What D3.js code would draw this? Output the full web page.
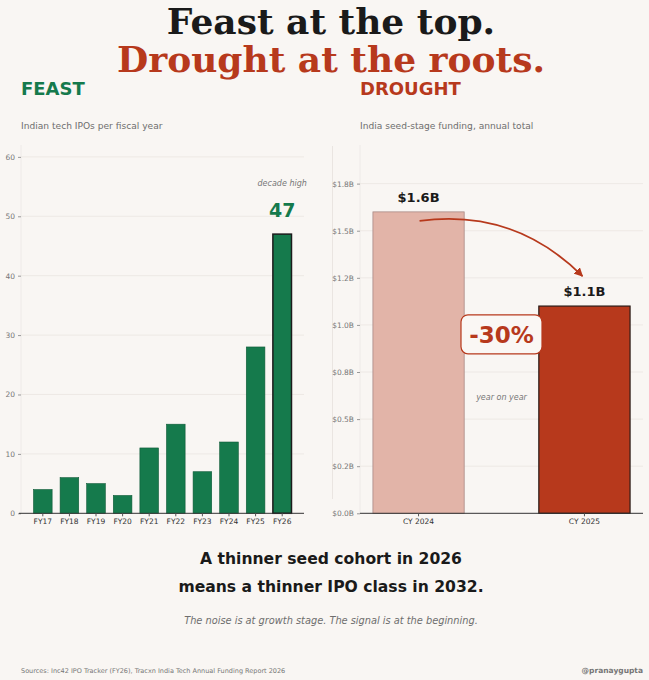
<!DOCTYPE html>
<html><head><meta charset="utf-8">
<script src="https://cdn.jsdelivr.net/npm/d3@7"></script>
<style>
html,body{margin:0;padding:0;background:#f9f6f3;}
svg{display:block;font-family:"DejaVu Sans",sans-serif;}
</style></head>
<body>
<svg id="c" width="649" height="680"></svg>
<script>
// ---- data ----
const ipoYears = ["FY17","FY18","FY19","FY20","FY21","FY22","FY23","FY24","FY25","FY26"];
const ipoCounts = [4,6,5,3,11,15,7,12,28,47];
const ipoTicks = [0,10,20,30,40,50,60];
const seedYears = ["CY 2024","CY 2025"];
const seedFunding = [1.6,1.1]; // $B
const seedTicks = [0,0.25,0.5,0.75,1.0,1.25,1.5,1.75];
const seedTickLabels = ["$0.0B","$0.2B","$0.5B","$0.8B","$1.0B","$1.2B","$1.5B","$1.8B"];
const seedLabels = ["$1.6B","$1.1B"];

const GREEN = "#157a4c", RED = "#b7391c", LIGHTRED = "#e2b4a8", BG = "#f9f6f3";
const svg = d3.select("#c");
svg.append("rect").attr("width",649).attr("height",680).attr("fill",BG);

// titles
svg.append("text").attr("x",331).attr("y",34).attr("text-anchor","middle")
  .attr("font-family","DejaVu Serif").attr("font-weight","bold").attr("font-size",36)
  .attr("fill","#1a1a1a").text("Feast at the top.");
svg.append("text").attr("x",331).attr("y",72).attr("text-anchor","middle")
  .attr("font-family","DejaVu Serif").attr("font-weight","bold").attr("font-size",36)
  .attr("fill",RED).text("Drought at the roots.");

svg.append("text").attr("x",21).attr("y",95).attr("font-weight","bold").attr("font-size",18)
  .attr("fill",GREEN).text("FEAST");
svg.append("text").attr("x",360).attr("y",95).attr("font-weight","bold").attr("font-size",18)
  .attr("fill",RED).text("DROUGHT");
svg.append("text").attr("x",21).attr("y",128.5).attr("font-size",9.1).attr("fill","#6e6e6e")
  .text("Indian tech IPOs per fiscal year");
svg.append("text").attr("x",360).attr("y",128.5).attr("font-size",9.1).attr("fill","#6e6e6e")
  .text("India seed-stage funding, annual total");

// ---- left chart ----
const L = {x0:21, x1:304, y0:513.3, yTop:145};
const xL = d3.scaleBand().domain(ipoYears).range([L.x0,L.x1]).paddingInner(0.3).paddingOuter(0.47);
const yL = d3.scaleLinear().domain([0,62]).range([L.y0,L.yTop]);
const gL = svg.append("g");
gL.selectAll("line.grid").data(ipoTicks.slice(1)).join("line")
  .attr("x1",L.x0).attr("x2",L.x1).attr("y1",d=>yL(d)).attr("y2",d=>yL(d))
  .attr("stroke","#ebe6e1").attr("stroke-width",0.8);
gL.append("line").attr("x1",L.x0).attr("x2",L.x0).attr("y1",L.yTop).attr("y2",L.y0)
  .attr("stroke","#ece8e4").attr("stroke-width",0.8);
gL.selectAll("rect.bar").data(ipoCounts).join("rect")
  .attr("x",(d,i)=>xL(ipoYears[i])).attr("width",xL.bandwidth())
  .attr("y",d=>yL(d)).attr("height",d=>L.y0-yL(d))
  .attr("fill",GREEN)
  .attr("stroke",(d,i)=>i===ipoCounts.length-1?"#1c1c1c":"#0f5a38")
  .attr("stroke-width",(d,i)=>i===ipoCounts.length-1?1.5:0.6);
const ayL = gL.append("g").attr("transform",`translate(${L.x0},0)`)
  .call(d3.axisLeft(yL).tickValues(ipoTicks).tickSize(3).tickPadding(3));
ayL.select(".domain").remove();
ayL.selectAll("line").attr("stroke","#999");
ayL.selectAll("text").attr("font-size",7.5).attr("fill","#777").attr("font-family","DejaVu Sans");
const axL = gL.append("g").attr("transform",`translate(0,${L.y0})`)
  .call(d3.axisBottom(xL).tickSize(3).tickPadding(2));
axL.select(".domain").attr("stroke","#333").attr("stroke-width",1).attr("d",`M${L.x0-2},0H${L.x1}`);
axL.selectAll("line").attr("stroke","#555");
axL.selectAll("text").attr("font-size",7.5).attr("fill","#333").attr("font-family","DejaVu Sans");
const lastX = xL(ipoYears[9]) + xL.bandwidth()/2;
gL.append("text").attr("x",lastX).attr("y",186).attr("text-anchor","middle")
  .attr("font-size",8).attr("font-style","italic").attr("fill","#777").text("decade high");
gL.append("text").attr("x",lastX).attr("y",217).attr("text-anchor","middle")
  .attr("font-size",19).attr("font-weight","bold").attr("fill",GREEN).text(ipoCounts[9]);

svg.append("line").attr("x1",332.5).attr("x2",332.5).attr("y1",146).attr("y2",499)
  .attr("stroke","#e6e1dc").attr("stroke-width",0.8);

// ---- right chart ----
const R = {x0:360, x1:643, y0:513.3, yTop:145};
const xR = d3.scaleBand().domain(seedYears).range([R.x0,R.x1]).paddingInner(0.45).paddingOuter(0.078);
const yR = d3.scaleLinear().domain([0,1.955]).range([R.y0,R.yTop]);
const gR = svg.append("g");
gR.selectAll("line.grid").data(seedTicks.slice(1)).join("line")
  .attr("x1",R.x0).attr("x2",R.x1).attr("y1",d=>yR(d)).attr("y2",d=>yR(d))
  .attr("stroke","#ebe6e1").attr("stroke-width",0.8);
gR.append("line").attr("x1",R.x0).attr("x2",R.x0).attr("y1",R.yTop).attr("y2",R.y0)
  .attr("stroke","#ece8e4").attr("stroke-width",0.8);
gR.selectAll("rect.bar").data(seedFunding).join("rect")
  .attr("x",(d,i)=>xR(seedYears[i])).attr("width",xR.bandwidth())
  .attr("y",d=>yR(d)).attr("height",d=>R.y0-yR(d))
  .attr("fill",(d,i)=>i===0?LIGHTRED:RED)
  .attr("stroke",(d,i)=>i===0?"#a88a85":"#2a1a16")
  .attr("stroke-width",(d,i)=>i===0?0.8:1.2);
const ayR = gR.append("g").attr("transform",`translate(${R.x0},0)`)
  .call(d3.axisLeft(yR).tickValues(seedTicks).tickFormat((d,i)=>seedTickLabels[i]).tickSize(3).tickPadding(3));
ayR.select(".domain").remove();
ayR.selectAll("line").attr("stroke","#999");
ayR.selectAll("text").attr("font-size",7.5).attr("fill","#777").attr("font-family","DejaVu Sans");
const axR = gR.append("g").attr("transform",`translate(0,${R.y0})`)
  .call(d3.axisBottom(xR).tickSize(3).tickPadding(2));
axR.select(".domain").attr("stroke","#333").attr("stroke-width",1).attr("d",`M${R.x0},0H${R.x1}`);
axR.selectAll("line").attr("stroke","#555");
axR.selectAll("text").attr("font-size",7.5).attr("fill","#333").attr("font-family","DejaVu Sans");
gR.selectAll("text.val").data(seedFunding).join("text")
  .attr("x",(d,i)=>xR(seedYears[i])+xR.bandwidth()/2).attr("y",d=>yR(d)-10)
  .attr("text-anchor","middle").attr("font-size",13).attr("font-weight","bold").attr("fill","#1a1a1a")
  .text((d,i)=>seedLabels[i]);
const cx0 = xR(seedYears[0])+xR.bandwidth()/2, cx1 = xR(seedYears[1])+xR.bandwidth()/2;
const p0 = [cx0+1, yR(seedFunding[0])+9], p2 = [cx1-2, yR(seedFunding[1])-30];
const ctrl = [514, 208];
const defs = svg.append("defs");
defs.append("marker").attr("id","ah").attr("viewBox","0 0 10 10").attr("refX",9).attr("refY",5)
  .attr("markerWidth",5).attr("markerHeight",5).attr("orient","auto")
  .append("path").attr("d","M0,0L10,5L0,10z").attr("fill",RED);
gR.append("path").attr("d",`M${p0[0]},${p0[1]}Q${ctrl[0]},${ctrl[1]} ${p2[0]},${p2[1]}`)
  .attr("fill","none").attr("stroke",RED).attr("stroke-width",1.8).attr("marker-end","url(#ah)");
const midX = (cx0+cx1)/2;
const boxY = yR(0.95);
gR.append("rect").attr("x",midX-40.5).attr("y",boxY-19.5).attr("width",81).attr("height",39)
  .attr("rx",7).attr("fill","#faf7f4").attr("stroke",RED).attr("stroke-width",1.2);
gR.append("text").attr("x",midX).attr("y",boxY+8.5).attr("text-anchor","middle")
  .attr("font-size",23).attr("font-weight","bold").attr("fill",RED).text("-30%");
gR.append("text").attr("x",midX).attr("y",400).attr("text-anchor","middle")
  .attr("font-size",8).attr("font-style","italic").attr("fill","#777").text("year on year");

// bottom text
svg.append("text").attr("x",331).attr("y",564).attr("text-anchor","middle")
  .attr("font-size",15.6).attr("font-weight","bold").attr("fill","#1a1a1a").text("A thinner seed cohort in 2026");
svg.append("text").attr("x",331).attr("y",592).attr("text-anchor","middle")
  .attr("font-size",15.6).attr("font-weight","bold").attr("fill","#1a1a1a").text("means a thinner IPO class in 2032.");
svg.append("text").attr("x",331).attr("y",624).attr("text-anchor","middle")
  .attr("font-size",9.8).attr("font-style","italic").attr("fill","#6e6e6e")
  .text("The noise is at growth stage. The signal is at the beginning.");
svg.append("text").attr("x",21).attr("y",673).attr("font-size",6.5).attr("fill","#777")
  .text("Sources: Inc42 IPO Tracker (FY26), Tracxn India Tech Annual Funding Report 2026");
svg.append("text").attr("x",643).attr("y",673).attr("text-anchor","end").attr("font-size",7.5)
  .attr("font-weight","bold").attr("fill","#777").text("@pranaygupta");
</script>
</body></html>
